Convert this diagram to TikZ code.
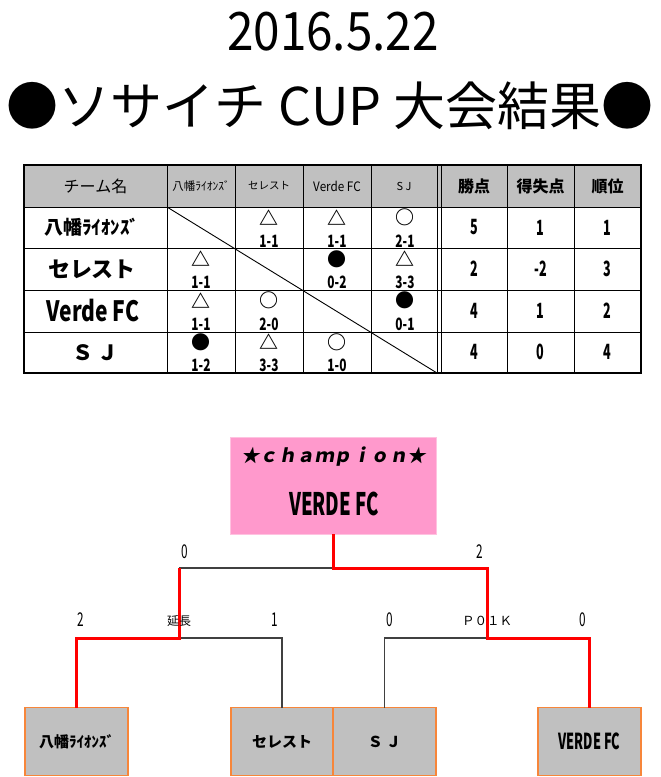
\documentclass[tikz,border=0pt]{standalone}
\usepackage{fontspec}
\setmainfont{Noto Sans CJK JP}
\newfontfamily\champfont[FakeSlant=0.18]{Noto Sans CJK JP}
\usepackage{graphicx}
\usetikzlibrary{positioning}
\newcommand\fs[1]{\fontsize{#1}{#1}\selectfont}
\newcommand\cond[2][.62]{\scalebox{#1}[1]{#2}}
\definecolor{hdrgray}{HTML}{C0C0C0}
\definecolor{champpink}{HTML}{FF99CC}
\definecolor{pinkline}{HTML}{FFC2E0}
\definecolor{boxorange}{HTML}{F7863A}
\definecolor{winred}{HTML}{FF0000}

\begin{document}
\begin{tikzpicture}[x=1pt,y=-1pt,line width=0.9pt,
  lbl/.style={inner sep=0pt},
  hdr/.style={inner sep=0pt,font=\fs{16}},
  rowname/.style={inner sep=0pt,font={\bfseries\fs{20}}},
  sym/.style={inner sep=0pt,font={\bfseries\fs{19}}},
  res/.style={inner sep=0pt,font={\bfseries\fs{17}}},
  pts/.style={inner sep=0pt,font={\bfseries\fs{21}}},
  score/.style={inner sep=0pt,font=\fs{19}},
  team/.style={draw=boxorange,line width=1.2pt,fill=hdrgray,minimum width=103pt,minimum height=68pt,inner sep=0pt,outer sep=0pt,font={\bfseries\fs{15}}},
  win/.style={draw=winred,line width=3pt},
  lose/.style={draw=black!75,line width=1.1pt}]
  \useasboundingbox (0,0) rectangle (661,777);

  % title
  \node[lbl,anchor=base,font=\fs{53}] (date)  at (333,50)  {\cond[.9]{2016.5.22}};
  \node[lbl,anchor=base,font=\fs{52}] (title) at (330,125) {●ソサイチ CUP 大会結果●};

  % league table
  \fill[hdrgray] (24,165) rectangle (641,207);
  \foreach \y in {207,248,290,332} \draw (24,\y) -- (641,\y);
  \foreach \x in {167,235,303,371,437,441,507,574} \draw (\x,165) -- (\x,373);
  \draw (167,207) -- (437,373);
  \draw[line width=1.6pt] (24,165) rectangle (641,373);

  \node[hdr]                    (h0) at (95.5,186)  {チーム名};
  \node[hdr,font=\fs{11.5}]     (h1) at (201,186)   {八幡ﾗｲｵﾝｽﾞ};
  \node[hdr,font=\fs{10.5}]     (h2) at (269,186)   {セレスト};
  \node[hdr,font=\fs{13}]       (h3) at (337,186)   {\cond[.9]{Verde FC}};
  \node[hdr,font=\fs{11}]       (h4) at (404,186)   {S J};
  \node[hdr,font=\bfseries\fs{16}] (h5) at (474,186)   {勝点};
  \node[hdr,font=\bfseries\fs{16}] (h6) at (540.5,186) {得失点};
  \node[hdr,font=\bfseries\fs{16}] (h7) at (607.5,186) {順位};

  \node[rowname,font=\bfseries\fs{19}] (n1) at (92,227.5) {八幡ﾗｲｵﾝｽﾞ};
  \node[rowname,font=\bfseries\fs{22}] (n2) at (92,269)   {セレスト};
  \node[rowname,font=\bfseries\fs{28}] (n3) at (93,311)   {\cond[.75]{Verde FC}};
  \node[rowname,font=\bfseries\fs{21}] (n4) at (95.5,352.5) {Ｓ Ｊ};

  \foreach \r/\c/\m/\s in {1/2/△/1-1,1/3/△/1-1,1/4/○/2-1,
                           2/1/△/1-1,2/3/●/0-2,2/4/△/3-3,
                           3/1/△/1-1,3/2/○/2-0,3/4/●/0-1,
                           4/1/●/1-2,4/2/△/3-3,4/3/○/1-0}{
    \node[sym] (m\r\c) at (133+68*\c,176+41.5*\r) {\m};
    \node[res,anchor=base] (s\r\c) at (133+68*\c,205.5+41.5*\r) {\cond[.7]{\s}};
  }
  \foreach \r/\a/\b/\c in {1/5/1/1,2/2/-2/3,3/4/1/2,4/4/0/4}{
    \node[pts] (p\r) at (474,186+41.5*\r)   {\cond[.6]{\a}};
    \node[pts] (g\r) at (540.5,186+41.5*\r) {\cond[.6]{\b}};
    \node[pts] (o\r) at (607.5,186+41.5*\r) {\cond[.6]{\c}};
  }

  % tournament
  \node[draw=pinkline,fill=champpink,minimum width=206pt,minimum height=97pt] (champ) at (333.5,485.5) {};
  \node[lbl,font={\champfont\bfseries\fs{18.5}}] (champhead) at (333.5,457) {★ｃｈａｍｐｉｏｎ★};
  \node[lbl,font={\bfseries\fs{31}}] (champname) at (334,503.5) {\cond[.6]{VERDE FC}};

  \node[team] (t1) at (76.5,741.5) {八幡ﾗｲｵﾝｽﾞ};
  \node[team,minimum width=102pt] (t2) at (282,741.5) {セレスト};
  \node[team,right=0pt of t2] (t3) {Ｓ Ｊ};
  \node[team] (t4) at (589.5,741.5) {\cond[.58]{\fs{22}VERDE FC}};

  \coordinate (fl) at (179,568);
  \coordinate (fr) at (487,568);
  \coordinate (sl) at (179,638);
  \coordinate (sr) at (487,638);

  \draw[lose] (fl) -- (champ.south |- fl);
  \draw[lose] (sl) -| (t2.north);
  \draw[lose] (sr) -| (t3.north);
  \draw[win] (fl) -- (sl) -| (t1.north);
  \draw[win] (champ.south) |- (fr) -- (sr) -| (t4.north);

  \node[score] (lf) at (185,552) {\cond{0}};
  \node[score] (rf) at (480,552) {\cond{2}};
  \node[score] (l1) at (81,620)  {\cond{2}};
  \node[lbl,font=\fs{12}] (et) at (179,621) {延長};
  \node[score] (l2) at (275,620) {\cond{1}};
  \node[score] (r1) at (390,620) {\cond{0}};
  \node[lbl,font=\fs{12.5}] (pk) at (487,621) {Ｐ０１Ｋ};
  \node[score] (r2) at (583,620) {\cond{0}};
\end{tikzpicture}
\end{document}
